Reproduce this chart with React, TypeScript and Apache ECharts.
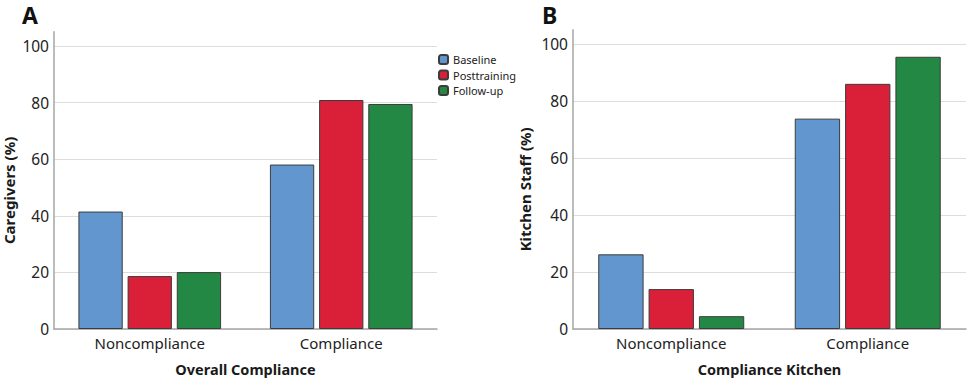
import React, { useEffect, useRef } from "react";
import * as echarts from "echarts";

const categories = ["Noncompliance", "Compliance"];
const seriesNames = ["Baseline", "Posttraining", "Follow-up"];
const colors = ["#6196CF", "#DA1F38", "#238843"];

// Panel A: Caregivers (%)
const caregiversBaseline = [41.5, 58.1];
const caregiversPosttraining = [18.7, 80.9];
const caregiversFollowup = [20.1, 79.5];

// Panel B: Kitchen staff (%)
const kitchenBaseline = [26.2, 73.8];
const kitchenPosttraining = [14.0, 86.0];
const kitchenFollowup = [4.5, 95.5];

const yTicks = [0, 20, 40, 60, 80, 100];

const FONT = "'Noto Sans', 'Open Sans', sans-serif";

export default function App() {
  const ref = useRef<HTMLDivElement>(null);

  useEffect(() => {
    if (!ref.current) return;
    const chart = echarts.init(ref.current, null, { renderer: "svg" });

    const makeX = (gridIndex: number, name: string) => ({
      type: "category",
      gridIndex,
      data: categories,
      name,
      nameLocation: "middle",
      nameGap: 32,
      nameTextStyle: { fontFamily: FONT, fontWeight: "bold", fontSize: 14.5, color: "#1a1a1a" },
      axisLine: { show: true, lineStyle: { color: "#a6a6a6", width: 1.5 } },
      axisTick: { show: false },
      axisLabel: { fontFamily: FONT, fontSize: 15, color: "#222", margin: 6 },
    });

    const makeY = (gridIndex: number, name: string, gap: number) => ({
      type: "value",
      gridIndex,
      min: 0,
      max: 105,
      interval: 20,
      name,
      nameLocation: "middle",
      nameGap: gap,
      nameTextStyle: { fontFamily: FONT, fontWeight: "bold", fontSize: 15, color: "#1a1a1a", padding: [0, 20, 0, 0] },
      axisLine: { show: true, lineStyle: { color: "#a6a6a6", width: 1.5 } },
      axisTick: { show: false },
      axisLabel: {
        fontFamily: FONT,
        fontSize: 15.5,
        color: "#222",
        margin: 5,
        formatter: (v: number) => (yTicks.includes(v) ? String(v) : ""),
      },
      splitLine: { show: true, showMaxLine: false, lineStyle: { color: "#dddddd", width: 1.2 } },
    });

    const makeSeries = (idx: number, name: string, data: number[], color: string, catGap: string, barGap: string) => ({
      type: "bar",
      name,
      xAxisIndex: idx,
      yAxisIndex: idx,
      data,
      barCategoryGap: catGap,
      barGap,
      itemStyle: { color, borderColor: "#3c3c3c", borderWidth: 1 },
    });

    chart.setOption({
      animation: false,
      backgroundColor: "#ffffff",
      legend: {
        data: seriesNames,
        orient: "vertical",
        left: 438,
        top: 53,
        padding: 0,
        itemWidth: 9,
        itemHeight: 9,
        itemGap: 2.5,
        textStyle: { fontFamily: FONT, fontSize: 11, color: "#222", lineHeight: 13 },
      },
      grid: [
        { left: 53, top: 31.8, width: 384, height: 298.2 },
        { left: 573, top: 29.7, width: 393, height: 300.6 },
      ],
      xAxis: [makeX(0, "Overall Compliance"), makeX(1, "Compliance Kitchen")],
      yAxis: [makeY(0, "Caregivers (%)", 38), makeY(1, "Kitchen Staff (%)", 41)],
      series: [
        makeSeries(0, seriesNames[0], caregiversBaseline, colors[0], "25.5%", "11%"),
        makeSeries(0, seriesNames[1], caregiversPosttraining, colors[1], "25.5%", "11%"),
        makeSeries(0, seriesNames[2], caregiversFollowup, colors[2], "25.5%", "11%"),
        makeSeries(1, seriesNames[0], kitchenBaseline, colors[0], "25.7%", "11%"),
        makeSeries(1, seriesNames[1], kitchenPosttraining, colors[1], "25.7%", "11%"),
        makeSeries(1, seriesNames[2], kitchenFollowup, colors[2], "25.7%", "11%"),
      ],
      graphic: [
        { type: "text", x: 22, y: 15, style: { text: "A", fontFamily: FONT, fontWeight: "bold", fontSize: 23, fill: "#111", verticalAlign: "middle" } },
        { type: "text", x: 542, y: 15, style: { text: "B", fontFamily: FONT, fontWeight: "bold", fontSize: 23, fill: "#111", verticalAlign: "middle" } },
      ],
    });

    return () => chart.dispose();
  }, []);

  return <div ref={ref} style={{ position: "absolute", left: 0, top: 0, width: 971, height: 381 }} />;
}
